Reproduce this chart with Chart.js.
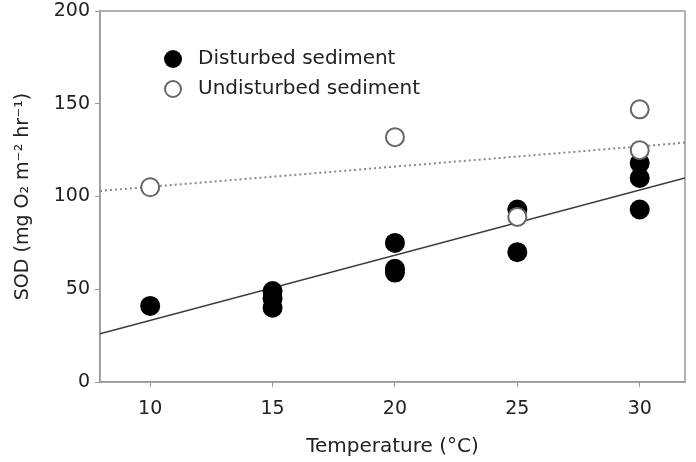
<!DOCTYPE html>
<html>
<head>
<meta charset="utf-8">
<script src="https://cdn.jsdelivr.net/npm/chart.js@4/dist/chart.umd.min.js"></script>
<style>
  html, body { margin: 0; padding: 0; background: #fff; }
  #wrap { width: 696px; height: 462px; }
</style>
</head>
<body>
<div id="wrap"><canvas id="sod"></canvas></div>
<script>
// Valores
var tempDisturbed = [10, 15, 15, 15, 20, 20, 20, 25, 25, 30, 30, 30];
var sodDisturbed  = [41, 49, 45, 40, 75, 61, 59, 93, 70, 118, 110, 93];

var tempUndisturbed = [10, 20, 25, 30, 30];
var sodUndisturbed  = [105, 132, 89, 147, 125];

var fitX = [7.95, 31.85];
var fitDisturbed = [26, 110];
var fitUndisturbed = [103, 129];

var xTicks = [10, 15, 20, 25, 30];
var yTicks = [0, 50, 100, 150, 200];

var labelDisturbed = 'Disturbed sediment';
var labelUndisturbed = 'Undisturbed sediment';

function pares(xs, ys) {
    return xs.map(function(x, i) { return { x: x, y: ys[i] }; });
}

var fonte = 'DejaVu Sans';
var cinzaEixo = '#9a9a9a';

// Legenda desenhada dentro da área do gráfico
var legendaInterna = {
    id: 'legendaInterna',
    afterDraw: function(chart) {
        var ctx = chart.ctx;
        var itens = [
            { texto: labelDisturbed, cheio: true, y: 59 },
            { texto: labelUndisturbed, cheio: false, y: 89 }
        ];
        ctx.save();
        ctx.font = '20px "' + fonte + '"';
        ctx.textBaseline = 'middle';
        ctx.textAlign = 'left';
        itens.forEach(function(it) {
            ctx.beginPath();
            ctx.arc(173, it.y, it.cheio ? 9 : 8, 0, Math.PI * 2);
            if (it.cheio) {
                ctx.fillStyle = '#000';
                ctx.fill();
            } else {
                ctx.fillStyle = '#fff';
                ctx.fill();
                ctx.lineWidth = 2;
                ctx.strokeStyle = '#666';
                ctx.stroke();
            }
            ctx.fillStyle = '#222';
            ctx.fillText(it.texto, 198, it.y);
        });
        ctx.restore();
    }
};

// Moldura da área do gráfico
var moldura = {
    id: 'moldura',
    beforeDatasetsDraw: function(chart) {
        var a = chart.chartArea;
        var ctx = chart.ctx;
        ctx.save();
        ctx.strokeStyle = cinzaEixo;
        ctx.lineWidth = 1.5;
        ctx.strokeRect(a.left, a.top, a.right - a.left, a.bottom - a.top);
        ctx.restore();
    }
};

var ctx = document.getElementById('sod').getContext('2d');

var myChart = new Chart(ctx, {
    type: 'scatter',
    data: {
        datasets: [{
            label: labelUndisturbed,
            data: pares(tempUndisturbed, sodUndisturbed),
            backgroundColor: '#fff',
            borderColor: '#666',
            borderWidth: 2,
            pointRadius: 9
        }, {
            label: labelDisturbed,
            data: pares(tempDisturbed, sodDisturbed),
            backgroundColor: '#000',
            borderColor: '#000',
            borderWidth: 0,
            pointRadius: 10
        }, {
            type: 'line',
            label: 'fit disturbed',
            data: pares(fitX, fitDisturbed),
            borderColor: '#3a3a3a',
            borderWidth: 1.6,
            pointRadius: 0,
            fill: false
        }, {
            type: 'line',
            label: 'fit undisturbed',
            data: pares(fitX, fitUndisturbed),
            borderColor: '#888',
            borderWidth: 2,
            borderDash: [2, 3],
            pointRadius: 0,
            fill: false
        }]
    },
    options: {
        responsive: true,
        maintainAspectRatio: false,
        animation: false,
        layout: { padding: { top: 10, right: 8, left: 0, bottom: 0 } },
        plugins: {
            legend: { display: false },
            tooltip: { enabled: false }
        },
        scales: {
            x: {
                type: 'linear',
                min: 7.95,
                max: 31.85,
                afterBuildTicks: function(axis) {
                    axis.ticks = xTicks.map(function(v) { return { value: v }; });
                },
                afterFit: function(axis) {
                    axis.height = 80;
                    axis.paddingLeft = 0;
                    axis.paddingRight = 0;
                },
                grid: {
                    drawOnChartArea: false,
                    tickLength: 5,
                    color: cinzaEixo
                },
                border: { color: cinzaEixo, width: 1.5 },
                ticks: {
                    padding: 13,
                    color: '#222',
                    font: { family: fonte, size: 19, lineHeight: 1 }
                },
                title: {
                    display: true,
                    text: 'Temperature (°C)',
                    color: '#222',
                    font: { family: fonte, size: 20 },
                    padding: { top: 0, bottom: 3 }
                }
            },
            y: {
                min: 0,
                max: 200,
                afterBuildTicks: function(axis) {
                    axis.ticks = yTicks.map(function(v) { return { value: v }; });
                },
                afterFit: function(axis) {
                    axis.width = 100;
                    axis.paddingTop = 0;
                    axis.paddingBottom = 0;
                },
                grid: {
                    drawOnChartArea: false,
                    tickLength: 5,
                    color: cinzaEixo
                },
                border: { color: cinzaEixo, width: 1.5 },
                ticks: {
                    padding: 5,
                    color: '#222',
                    font: { family: fonte, size: 19, lineHeight: 1 }
                },
                title: {
                    display: true,
                    text: 'SOD (mg O₂ m⁻² hr⁻¹)',
                    color: '#222',
                    font: { family: fonte, size: 19 },
                    padding: { top: 12, bottom: 0 }
                }
            }
        }
    },
    plugins: [moldura, legendaInterna]
});
</script>
</body>
</html>
